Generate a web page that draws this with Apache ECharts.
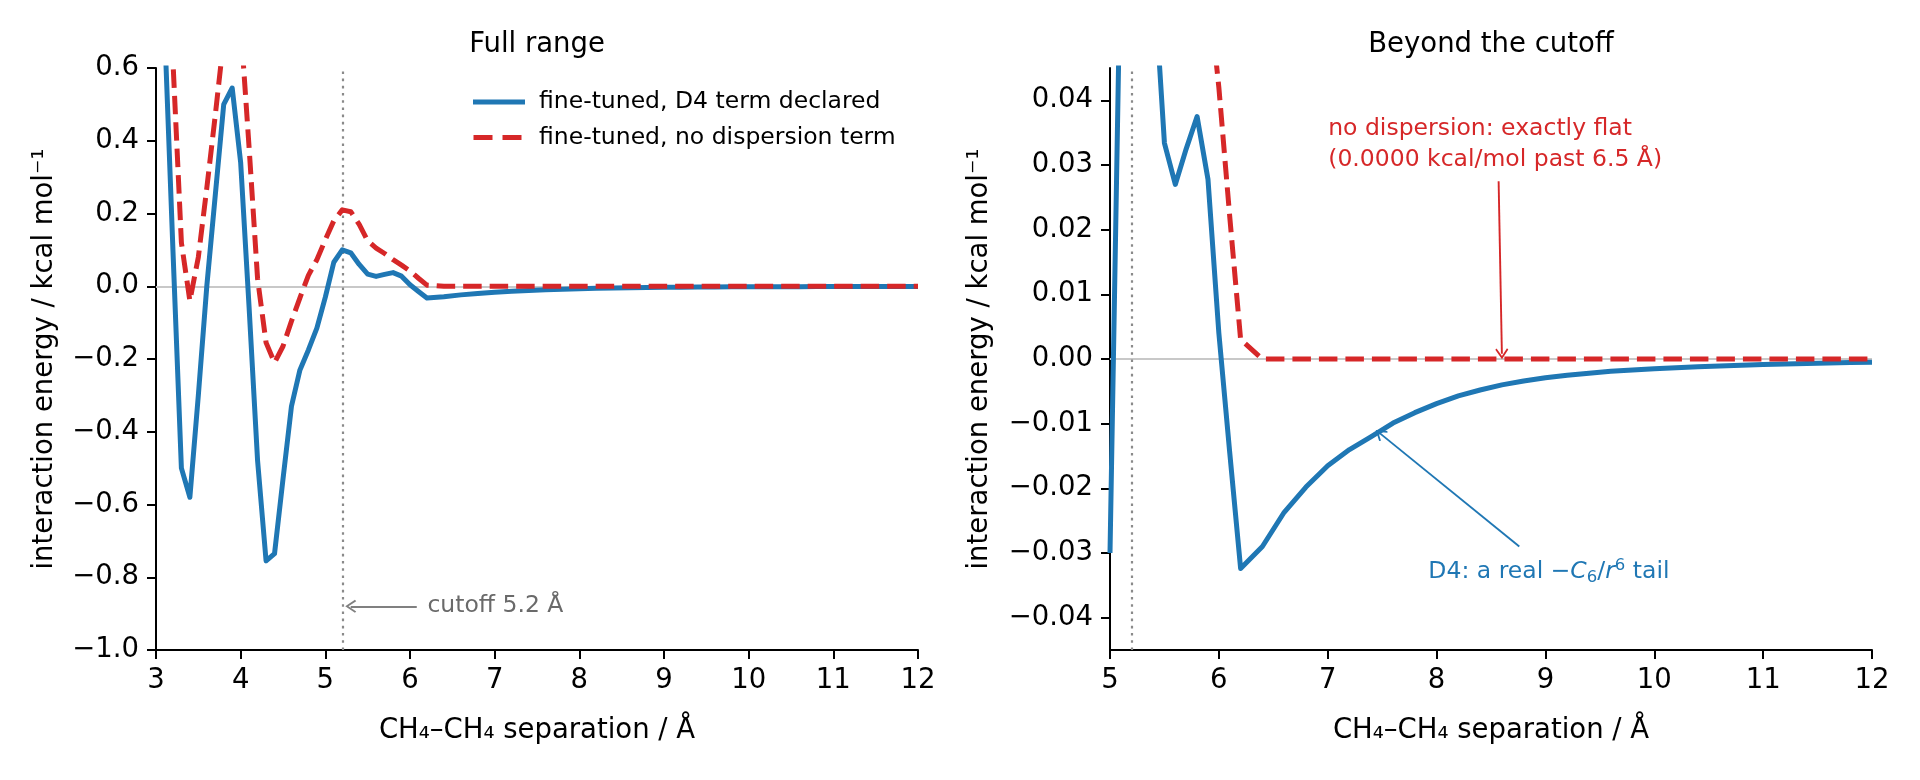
<!DOCTYPE html>
<html>
<head>
<meta charset="utf-8">
<script src="https://cdn.jsdelivr.net/npm/echarts@6/dist/echarts.min.js"></script>
<style>
html,body{margin:0;padding:0;background:#fff;}
#chart{width:1920px;height:780px;}
</style>
</head>
<body>
<div id="chart"></div>
<script>
// ---- data ----
const separation = [
  3.0,3.1,3.2,3.3,3.4,3.5,3.6,3.7,3.8,3.9,
  4.0,4.1,4.2,4.3,4.4,4.5,4.6,4.7,4.8,4.9,
  5.0,5.1,5.2,5.3,5.4,5.5,5.6,5.7,5.8,5.9,
  6.0,6.1,6.2,6.4,6.6,6.8,7.0,7.2,7.4,7.6,
  7.8,8.0,8.2,8.4,8.6,8.8,9.0,9.2,9.4,9.6,
  9.8,10.0,10.2,10.4,10.6,10.8,11.0,11.2,11.4,11.6,
  11.8,12.0
];
const energyD4 = [
  2.0,0.72,0.10,-0.50,-0.58,-0.30,0.00,0.25,0.50,0.545,
  0.34,-0.06,-0.48,-0.755,-0.735,-0.53,-0.33,-0.23,-0.175,-0.115,
  -0.03,0.066,0.100,0.092,0.060,0.0334,0.0270,0.0325,0.0375,0.0278,
  0.0040,-0.0145,-0.0324,-0.0290,-0.0237,-0.0198,-0.0165,-0.0140,-0.0120,-0.0099,
  -0.0083,-0.0069,-0.0057,-0.0048,-0.0040,-0.0034,-0.0029,-0.0025,-0.0022,-0.0019,
  -0.0017,-0.0015,-0.00135,-0.00121,-0.00108,-0.00096,-0.00086,-0.00077,-0.00069,-0.00062,
  -0.00056,-0.00051
];
const energyNoDisp = [
  3.0,1.4,0.62,0.12,-0.04,0.08,0.27,0.47,0.68,0.78,
  0.72,0.38,0.02,-0.155,-0.21,-0.165,-0.096,-0.032,0.030,0.073,
  0.128,0.180,0.210,0.205,0.170,0.125,0.105,0.090,0.073,0.058,
  0.042,0.022,0.003,0,0,0,0,0,0,0,
  0,0,0,0,0,0,0,0,0,0,
  0,0,0,0,0,0,0,0,0,0,
  0,0
];
const seriesNames = ['fine-tuned, D4 term declared', 'fine-tuned, no dispersion term'];
const panelTitles = ['Full range', 'Beyond the cutoff'];
const leftXTicks = [3,4,5,6,7,8,9,10,11,12];
const rightXTicks = [5,6,7,8,9,10,11,12];
const leftYTicks = [-1.0,-0.8,-0.6,-0.4,-0.2,0.0,0.2,0.4,0.6];
const rightYTicks = [-0.04,-0.03,-0.02,-0.01,0.00,0.01,0.02,0.03,0.04];
const cutoff = 5.2;
const annCutoff = {text:'cutoff 5.2 Å', at:[6.2,-0.88], from:[6.08,-0.88], to:[5.30,-0.88]};
const annFlat = {text:'no dispersion: exactly flat\n(0.0000 kcal/mol past 6.5 Å)', at:[7.0,0.0332], from:[8.57,0.0275], to:[8.60,0.0008]};
const annTail = {at:[7.92,-0.0329], from:[8.76,-0.029], to:[7.48,-0.0115]};

// ---- styling ----
const FONT = 'DejaVu Sans';
const BLUE = '#1f77b4', RED = '#d62728';
const pts = (ys, xmin) => separation.map((x,i)=>[x, ys[i]]).filter(p => p[0] >= xmin);
const minus = s => s.replace('-', '\u2212');
const chevron = 'path://M0,0 L7,9 L5.6,10.2 L0,3 L-5.6,10.2 L-7,9 Z';
const xMins = [3, 5];

function axisCommon() {
  return {
    axisLine:{show:true, onZero:false, lineStyle:{color:'#000', width:2}},
    axisTick:{show:true, length:9, lineStyle:{color:'#000', width:2}},
    axisLabel:{color:'#000', fontFamily:FONT, fontSize:27.5, margin:17},
    splitLine:{show:false},
    nameTextStyle:{color:'#000', fontFamily:FONT, fontSize:27.5}
  };
}

const xAxes = [
  Object.assign(axisCommon(), {type:'value', gridIndex:0, min:3, max:12, interval:1,
    name:'CH\u2084\u2013CH\u2084 separation / Å', nameLocation:'middle', nameGap:67}),
  Object.assign(axisCommon(), {type:'value', gridIndex:1, min:5, max:12, interval:1,
    name:'CH\u2084\u2013CH\u2084 separation / Å', nameLocation:'middle', nameGap:67})
];
xAxes[0].axisLabel = Object.assign({}, xAxes[0].axisLabel, {customValues:leftXTicks, formatter:v=>String(Math.round(v))});
xAxes[0].axisTick = Object.assign({}, xAxes[0].axisTick, {customValues:leftXTicks});
xAxes[1].axisLabel = Object.assign({}, xAxes[1].axisLabel, {customValues:rightXTicks, formatter:v=>String(Math.round(v))});
xAxes[1].axisTick = Object.assign({}, xAxes[1].axisTick, {customValues:rightXTicks});

const yAxes = [
  Object.assign(axisCommon(), {type:'value', gridIndex:0, min:-1.0, max:0.6, interval:0.2,
    name:'interaction energy / kcal mol\u207B\u00B9', nameLocation:'middle', nameGap:97}),
  Object.assign(axisCommon(), {type:'value', gridIndex:1, min:-0.045, max:0.045,
    name:'interaction energy / kcal mol\u207B\u00B9', nameLocation:'middle', nameGap:116})
];
yAxes[0].axisLabel = Object.assign({}, yAxes[0].axisLabel, {customValues:leftYTicks, formatter:v=>minus(v.toFixed(1))});
yAxes[0].axisTick = Object.assign({}, yAxes[0].axisTick, {customValues:leftYTicks});
yAxes[1].axisLabel = Object.assign({}, yAxes[1].axisLabel, {customValues:rightYTicks, formatter:v=>minus(v.toFixed(2))});
yAxes[1].axisTick = Object.assign({}, yAxes[1].axisTick, {customValues:rightYTicks});

function refSeries(idx) {
  return {
    type:'line', xAxisIndex:idx, yAxisIndex:idx, data:pts(energyD4, xMins[idx]), silent:true, z:1,
    showSymbol:false, symbol:'none', lineStyle:{opacity:0}, name:'ref'+idx,
    markLine:{silent:true, z:1, symbol:['none','none'], label:{show:false}, animation:false,
      data:[
        {yAxis:0, lineStyle:{color:'#c8c8c8', width:2, type:'solid'}},
        {xAxis:cutoff, lineStyle:{color:'#8a8a8a', width:2.2, type:[2.6,4.6]}}
      ]}
  };
}
function dataSeries(idx, nameIdx, ys, color, dashed, z) {
  return {
    type:'line', name:seriesNames[nameIdx], xAxisIndex:idx, yAxisIndex:idx, data:pts(ys, xMins[idx]),
    showSymbol:false, symbol:'none', clip:true, z:z,
    lineStyle:{color:color, width:5, type: dashed ? [18.5,8] : 'solid', cap:'butt', join:'round'},
    itemStyle:{color:color}
  };
}
function textPoint(coord, label) {
  return {coord:coord, symbol:'circle', symbolSize:1, itemStyle:{color:'rgba(0,0,0,0)'}, label:label};
}
function arrow(from, to, color) {
  return [{coord:from, lineStyle:{color:color, width:1.9, type:'solid'}}, {coord:to}];
}

const annLeft = {
  type:'line', xAxisIndex:0, yAxisIndex:0, data:[], silent:true, z:6, name:'annL',
  markLine:{silent:true, symbol:['none', chevron], symbolSize:[13,11], label:{show:false}, animation:false,
    data:[arrow(annCutoff.from, annCutoff.to, '#808080')]},
  markPoint:{silent:true, animation:false, data:[
    textPoint(annCutoff.at, {show:true, position:'right', distance:0, formatter:annCutoff.text,
      color:'#6a6a6a', fontFamily:FONT, fontSize:23.5})
  ]}
};
const annRight = {
  type:'line', xAxisIndex:1, yAxisIndex:1, data:[], silent:true, z:6, name:'annR',
  markLine:{silent:true, symbol:['none', chevron], symbolSize:[13,11], label:{show:false}, animation:false,
    data:[arrow(annFlat.from, annFlat.to, RED), arrow(annTail.from, annTail.to, BLUE)]},
  markPoint:{silent:true, animation:false, data:[
    textPoint(annFlat.at, {show:true, position:'right', distance:0, formatter:annFlat.text,
      color:RED, fontFamily:FONT, fontSize:23.5, lineHeight:31, align:'left'}),
    textPoint(annTail.at, {show:true, position:'right', distance:0,
      formatter:'D4: a real \u2212{i|C}{sub|6}/{i|r}{sup|6} tail',
      color:BLUE, fontFamily:FONT, fontSize:23.5,
      rich:{
        i:{fontStyle:'italic', color:BLUE, fontFamily:FONT, fontSize:23.5},
        sub:{color:BLUE, fontFamily:FONT, fontSize:16.5, verticalAlign:'bottom', padding:[12,0,0,0]},
        sup:{color:BLUE, fontFamily:FONT, fontSize:16.5, verticalAlign:'top', padding:[0,0,10,0]}
      }})
  ]}
};

const legendIcons = [
  'path://M0,0H52V5H0Z',
  'path://M1,0H20V5H1Z M30,0H49V5H30Z M51.9,2.4H52V2.6H51.9Z'
];

const option = {
  animation:false,
  backgroundColor:'#ffffff',
  textStyle:{fontFamily:FONT},
  title:[
    {text:panelTitles[0], left:532, top:26, textAlign:'center',
      textStyle:{fontFamily:FONT, fontSize:27.5, fontWeight:'normal', color:'#000'}},
    {text:panelTitles[1], left:1486, top:26, textAlign:'center',
      textStyle:{fontFamily:FONT, fontSize:27.5, fontWeight:'normal', color:'#000'}}
  ],
  legend:{
    data:[
      {name:seriesNames[0], icon:legendIcons[0], itemStyle:{color:BLUE}},
      {name:seriesNames[1], icon:legendIcons[1], itemStyle:{color:RED}}
    ],
    orient:'vertical', left:473, top:90, padding:0, itemWidth:52, itemHeight:5, itemGap:11.5,
    textStyle:{fontFamily:FONT, fontSize:23.5, color:'#000', padding:[0,0,0,9]},
    selectedMode:false
  },
  grid:[
    {left:156, top:68, width:762, height:582},
    {left:1110, top:68, width:762, height:582}
  ],
  xAxis:xAxes,
  yAxis:yAxes,
  series:[
    refSeries(0), refSeries(1),
    dataSeries(0, 0, energyD4, BLUE, false, 2),
    dataSeries(0, 1, energyNoDisp, RED, true, 3),
    dataSeries(1, 0, energyD4, BLUE, false, 2),
    dataSeries(1, 1, energyNoDisp, RED, true, 3),
    annLeft, annRight
  ]
};

const chart = echarts.init(document.getElementById('chart'), null, {renderer:'canvas'});
chart.setOption(option);
</script>
</body>
</html>
